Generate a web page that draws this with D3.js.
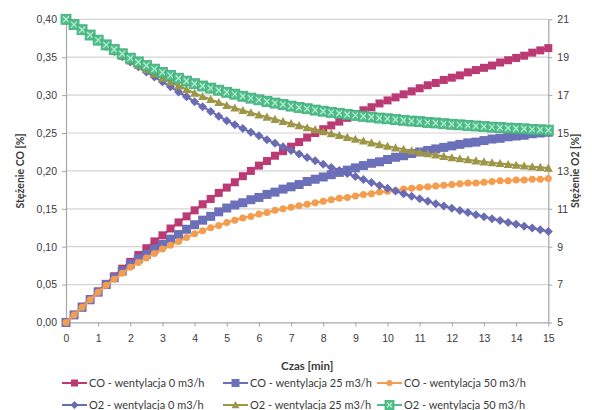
<!DOCTYPE html>
<html>
<head>
<meta charset="utf-8">
<script src="https://cdn.jsdelivr.net/npm/d3@7"></script>
<style>
  html, body { margin: 0; padding: 0; background: #fff; }
  svg { display: block; font-family: Lato, "Open Sans", sans-serif; }
</style>
</head>
<body>
<div id="chart"></div>
<script>
// time axis (minutes), one point every 15 s
const czas = [
  0, 0.25, 0.5, 0.75, 1, 1.25, 1.5, 1.75, 2, 2.25, 2.5, 2.75, 3, 3.25, 3.5, 3.75,
  4, 4.25, 4.5, 4.75, 5, 5.25, 5.5, 5.75, 6, 6.25, 6.5, 6.75, 7, 7.25, 7.5, 7.75,
  8, 8.25, 8.5, 8.75, 9, 9.25, 9.5, 9.75, 10, 10.25, 10.5, 10.75, 11, 11.25, 11.5, 11.75,
  12, 12.25, 12.5, 12.75, 13, 13.25, 13.5, 13.75, 14, 14.25, 14.5, 14.75, 15
];

// CO [%] - left axis
const co0 = [
  0, .010, .021, .031, .041, .051, .061, .071, .080, .089, .098, .107, .115, .124, .132, .140,
  .148, .156, .163, .171, .178, .185, .193, .200, .207, .213, .220, .226, .232, .238, .244, .250,
  .255, .260, .265, .270, .275, .280, .284, .289, .293, .297, .301, .305, .309, .313, .316, .320,
  .323, .326, .330, .333, .336, .339, .343, .346, .349, .352, .356, .359, .362
];
const co25 = [
  0, .010, .020, .030, .040, .050, .059, .068, .077, .084, .090, .097, .103, .110, .116, .123,
  .129, .135, .140, .146, .151, .155, .158, .162, .165, .169, .172, .176, .179, .182, .186, .189,
  .192, .195, .198, .201, .204, .207, .210, .212, .215, .218, .220, .223, .225, .227, .229, .231,
  .233, .235, .237, .238, .240, .242, .243, .245, .246, .247, .249, .250, .251
];
const co50 = [
  0, .010, .020, .030, .040, .049, .057, .065, .073, .079, .085, .091, .097, .102, .107, .112,
  .117, .121, .125, .128, .132, .135, .138, .140, .143, .145, .148, .150, .152, .154, .156, .158,
  .160, .162, .164, .165, .167, .169, .170, .172, .173, .174, .176, .177, .178, .179, .180, .181,
  .182, .183, .184, .184, .185, .186, .187, .187, .188, .188, .189, .189, .190
];

// O2 [%] - right axis
const o2_0 = [
  21.00, 20.71, 20.42, 20.14, 19.85, 19.57, 19.30, 19.02, 18.75, 18.49, 18.22, 17.96, 17.70, 17.44, 17.17, 16.91,
  16.65, 16.39, 16.14, 15.89, 15.65, 15.44, 15.24, 15.04, 14.85, 14.65, 14.46, 14.27, 14.08, 13.89, 13.71, 13.53,
  13.35, 13.18, 13.02, 12.86, 12.70, 12.54, 12.39, 12.23, 12.08, 11.94, 11.80, 11.66, 11.53, 11.40, 11.27, 11.15,
  11.03, 10.91, 10.80, 10.69, 10.58, 10.48, 10.38, 10.28, 10.18, 10.08, 9.99, 9.89, 9.80
];
const o2_25 = [
  21.00, 20.71, 20.42, 20.14, 19.85, 19.58, 19.32, 19.06, 18.80, 18.57, 18.34, 18.12, 17.90, 17.69, 17.49, 17.29,
  17.10, 16.93, 16.77, 16.61, 16.45, 16.32, 16.19, 16.07, 15.95, 15.84, 15.72, 15.61, 15.50, 15.39, 15.28, 15.18,
  15.07, 14.97, 14.87, 14.77, 14.67, 14.58, 14.48, 14.39, 14.30, 14.22, 14.14, 14.06, 13.98, 13.91, 13.84, 13.77,
  13.70, 13.64, 13.59, 13.53, 13.48, 13.43, 13.39, 13.34, 13.30, 13.26, 13.22, 13.19, 13.15
];
const o2_50 = [
  21.00, 20.72, 20.45, 20.17, 19.90, 19.65, 19.41, 19.18, 18.95, 18.75, 18.56, 18.37, 18.20, 18.04, 17.89, 17.74,
  17.60, 17.48, 17.37, 17.26, 17.15, 17.05, 16.94, 16.84, 16.75, 16.66, 16.58, 16.50, 16.42, 16.35, 16.28, 16.21,
  16.15, 16.09, 16.04, 15.98, 15.93, 15.88, 15.84, 15.79, 15.75, 15.71, 15.67, 15.63, 15.60, 15.56, 15.53, 15.49,
  15.46, 15.43, 15.40, 15.37, 15.34, 15.31, 15.29, 15.26, 15.24, 15.22, 15.19, 15.17, 15.15
];

const seriesNames = [
  'CO - wentylacja 0 m3/h', 'CO - wentylacja 25 m3/h', 'CO - wentylacja 50 m3/h',
  'O2 - wentylacja 0 m3/h', 'O2 - wentylacja 25 m3/h', 'O2 - wentylacja 50 m3/h'
];

// tick labels
const xTicks = [0, 1, 2, 3, 4, 5, 6, 7, 8, 9, 10, 11, 12, 13, 14, 15];
const leftTicks = [0, 0.05, 0.10, 0.15, 0.20, 0.25, 0.30, 0.35, 0.40];
const leftTickLabels = ['0,00', '0,05', '0,10', '0,15', '0,20', '0,25', '0,30', '0,35', '0,40'];
const rightTicks = [5, 7, 9, 11, 13, 15, 17, 19, 21];

const W = 592, H = 410;
const margin = { top: 19.3, right: 43.7, bottom: 87.5, left: 66 };
const plotW = W - margin.left - margin.right;
const plotH = H - margin.top - margin.bottom;

const svg = d3.select('#chart').append('svg')
  .attr('width', W)
  .attr('height', H);

const x = d3.scaleLinear().domain([0, 15]).range([margin.left, margin.left + plotW]);
const yL = d3.scaleLinear().domain([0, 0.4]).range([margin.top + plotH, margin.top]);
const yR = d3.scaleLinear().domain([5, 21]).range([margin.top + plotH, margin.top]);

const textColor = '#3a3a3a';
const axisColor = '#a6a6a6';

// gridlines
svg.append('g')
  .selectAll('line')
  .data(leftTicks)
  .enter()
  .append('line')
  .attr('x1', x(0))
  .attr('x2', x(15))
  .attr('y1', d => yL(d))
  .attr('y2', d => yL(d))
  .attr('stroke', '#d4d4d4')
  .attr('stroke-width', 1.2);

// axes
const styleAxis = g => {
  g.select('.domain').attr('stroke', axisColor).attr('stroke-width', 1.2);
  g.selectAll('.tick line').attr('stroke', axisColor);
  g.selectAll('.tick text')
    .attr('fill', textColor)
    .style('font-size', '10.5px');
};

svg.append('g')
  .attr('transform', 'translate(' + margin.left + ',0)')
  .call(d3.axisLeft(yL).tickValues(leftTicks)
    .tickFormat((d, i) => leftTickLabels[i]).tickSize(4).tickPadding(5).tickSizeOuter(0))
  .call(styleAxis);

svg.append('g')
  .attr('transform', 'translate(' + (margin.left + plotW) + ',0)')
  .call(d3.axisRight(yR).tickValues(rightTicks).tickSize(4).tickPadding(5).tickSizeOuter(0))
  .call(styleAxis);

svg.append('g')
  .attr('transform', 'translate(0,' + (margin.top + plotH) + ')')
  .call(d3.axisBottom(x).tickValues(xTicks).tickSize(4).tickPadding(8).tickSizeOuter(0))
  .call(styleAxis);

// axis titles
svg.append('text')
  .attr('transform', 'translate(24,' + (margin.top + plotH / 2) + ') rotate(-90)')
  .attr('text-anchor', 'middle')
  .attr('fill', textColor)
  .style('font-size', '10.5px')
  .style('font-weight', 'bold')
  .text('Stężenie  CO [%]');

svg.append('text')
  .attr('transform', 'translate(579,' + (margin.top + plotH / 2) + ') rotate(-90)')
  .attr('text-anchor', 'middle')
  .attr('fill', textColor)
  .style('font-size', '10.5px')
  .style('font-weight', 'bold')
  .text('Stężenie  O2 [%]');

svg.append('text')
  .attr('x', x(7.5))
  .attr('y', 370)
  .attr('text-anchor', 'middle')
  .attr('fill', textColor)
  .style('font-size', '11.5px')
  .style('font-weight', 'bold')
  .text('Czas [min]');

// series definitions
const series = [
  { name: seriesNames[0], values: co0, y: yL, color: '#bb3a73', marker: 'square', size: 8 },
  { name: seriesNames[1], values: co25, y: yL, color: '#6c70b9', marker: 'square', size: 9 },
  { name: seriesNames[2], values: co50, y: yL, color: '#f59d4e', marker: 'circle', size: 7 },
  { name: seriesNames[3], values: o2_0, y: yR, color: '#6a6cb3', marker: 'diamond', size: 9 },
  { name: seriesNames[4], values: o2_25, y: yR, color: '#9d9647', marker: 'triangle', size: 9 },
  { name: seriesNames[5], values: o2_50, y: yR, color: '#52bd8b', marker: 'xsquare', size: 10 }
];

function drawMarker(g, type, size, color) {
  const h = size / 2;
  if (type === 'square') {
    g.append('rect').attr('x', -h).attr('y', -h).attr('width', size).attr('height', size)
      .attr('fill', color);
  } else if (type === 'circle') {
    g.append('circle').attr('r', h).attr('fill', color);
  } else if (type === 'diamond') {
    g.append('path').attr('d', 'M0,' + (-h) + 'L' + h + ',0L0,' + h + 'L' + (-h) + ',0Z')
      .attr('fill', color);
  } else if (type === 'triangle') {
    g.append('path').attr('d', 'M0,' + (-h) + 'L' + h + ',' + (h * 0.8) + 'L' + (-h) + ',' + (h * 0.8) + 'Z')
      .attr('fill', color);
  } else if (type === 'xsquare') {
    g.append('rect').attr('x', -h).attr('y', -h).attr('width', size).attr('height', size)
      .attr('fill', color).attr('stroke', '#3fae7b').attr('stroke-width', 0.8);
    g.append('path').attr('d', 'M' + (-h + 2) + ',' + (-h + 2) + 'L' + (h - 2) + ',' + (h - 2) +
      'M' + (h - 2) + ',' + (-h + 2) + 'L' + (-h + 2) + ',' + (h - 2))
      .attr('stroke', '#b4ecd0').attr('stroke-width', 1.3);
  }
}

const plot = svg.append('g');

series.forEach(s => {
  const line = d3.line()
    .x((d, i) => x(czas[i]))
    .y(d => s.y(d));

  plot.append('path')
    .datum(s.values)
    .attr('fill', 'none')
    .attr('stroke', s.color)
    .attr('stroke-width', 2.2)
    .attr('d', line);

  plot.append('g')
    .selectAll('g')
    .data(s.values)
    .enter()
    .append('g')
    .attr('transform', (d, i) => 'translate(' + x(czas[i]) + ',' + s.y(d) + ')')
    .each(function () { drawMarker(d3.select(this), s.marker, s.size, s.color); });
});

// legend
const legendCols = [62, 223, 377];
const legendRows = [383, 405];
const legend = svg.append('g');
series.forEach((s, i) => {
  const lx = legendCols[i % 3];
  const ly = legendRows[Math.floor(i / 3)];
  const item = legend.append('g').attr('transform', 'translate(' + lx + ',' + ly + ')');
  item.append('line')
    .attr('x1', 0).attr('x2', 25).attr('y1', 0).attr('y2', 0)
    .attr('stroke', s.color).attr('stroke-width', 2);
  const m = item.append('g').attr('transform', 'translate(12.5,0)');
  drawMarker(m, s.marker, s.size - 1, s.color);
  item.append('text')
    .attr('x', 27)
    .attr('y', 0)
    .attr('dy', '0.35em')
    .attr('fill', textColor)
    .style('font-size', '11px')
    .text(s.name);
});
</script>
</body>
</html>
